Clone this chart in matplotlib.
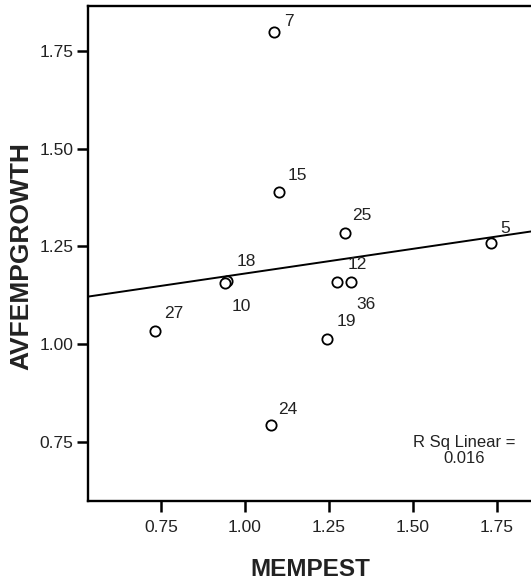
"""
    Scatter of AVFEMPGROWTH against MEMPEST with a linear fit line
"""

import numpy as np
import matplotlib
matplotlib.use('Agg')
import matplotlib.pyplot as plt

plt.rcParams['font.family'] = ['Liberation Sans', 'DejaVu Sans']

# case labels and values
case_ids = ['7', '15', '25', '5', '18', '10', '12', '36', '19', '27', '24']
mempest = [1.088, 1.101, 1.297, 1.734, 0.947, 0.942, 1.275, 1.315, 1.246, 0.733, 1.077]
avfempgrowth = [1.799, 1.388, 1.284, 1.259, 1.161, 1.157, 1.159, 1.159, 1.012, 1.034, 0.792]
r_sq_text = 'R Sq Linear =\n0.016'

x_ticks = [0.75, 1.00, 1.25, 1.50, 1.75]
y_ticks = [0.75, 1.00, 1.25, 1.50, 1.75]

# label offsets in points (text left / baseline relative to the marker)
label_offsets = [(6.8, 4.4), (6.6, 9.2), (5.4, 9.3), (6.6, 7.1), (7.1, 11.0), (4.6, -20.2),
                 (7.6, 9.1), (4.2, -19.4), (6.3, 9.7), (6.1, 9.5), (5.6, 8.2)]

fig = plt.figure(figsize=(5.31, 5.82), dpi=100)
ax = fig.add_axes([0.1665, 0.1393, 0.8385, 0.8507])

ax.plot(mempest, avfempgrowth, linestyle='none', marker='o', markersize=7.4,
        markerfacecolor='white', markeredgecolor='black', markeredgewidth=1.3, zorder=3)

# linear fit
slope, intercept = np.polyfit(mempest, avfempgrowth, 1)
ax.axline((0, intercept), slope=slope, color='black', linewidth=1.4, zorder=2)

for cid, xv, yv, off in zip(case_ids, mempest, avfempgrowth, label_offsets):
    ax.annotate(cid, xy=(xv, yv), xytext=off, textcoords='offset points',
                ha='left', va='baseline', fontsize=12.5, color='#222222')

ax.text(0.8435, 0.102, r_sq_text, transform=ax.transAxes, ha='center', va='center',
        multialignment='center', fontsize=12, color='#222222', linespacing=1.15)

ax.set_xlim(0.534, 1.86)
ax.set_ylim(0.5986, 1.865)
ax.set_xticks(x_ticks)
ax.set_yticks(y_ticks)
ax.set_xticklabels(['%.2f' % v for v in x_ticks])
ax.set_yticklabels(['%.2f' % v for v in y_ticks])
ax.tick_params(axis='both', direction='out', length=8, width=1.8, labelsize=12.5,
               labelcolor='#222222')
ax.tick_params(axis='x', pad=6)
ax.tick_params(axis='y', pad=3)

for side in ['left', 'bottom', 'top', 'right']:
    ax.spines[side].set_linewidth(1.7)

ax.set_xlabel('MEMPEST', fontsize=17.5, fontweight='bold', color='#222222')
ax.set_ylabel('AVFEMPGROWTH', fontsize=19, fontweight='bold', color='#222222')
ax.xaxis.set_label_coords(0.498, -0.1375)
ax.yaxis.set_label_coords(-0.150, 0.495)
ax.xaxis.label.set_va('center')
ax.yaxis.label.set_va('center')

fig.savefig('out.png', dpi=100)
